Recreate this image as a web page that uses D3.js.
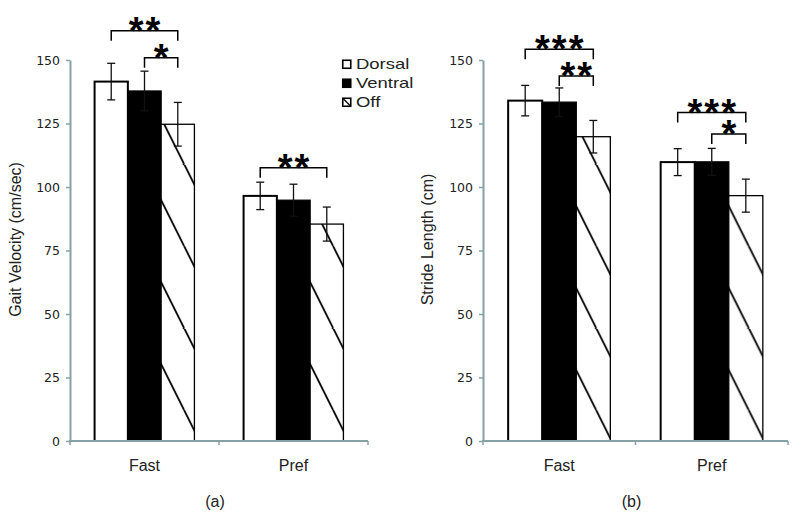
<!DOCTYPE html>
<html>
<head>
<meta charset="utf-8">
<script src="https://cdn.jsdelivr.net/npm/d3@7"></script>
<style>
  html, body { margin: 0; padding: 0; background: #fff; }
  svg { display: block; }
</style>
</head>
<body>
<svg id="chart" width="800" height="524"></svg>
<script>
// ---------- DATA ----------
const categories = ["Fast", "Pref"];
const seriesNames = ["Dorsal", "Ventral", "Off"];
const yTicks = [0, 25, 50, 75, 100, 125, 150];

// Panel (a): Gait Velocity (cm/sec)
const gaitDorsal = [141.5, 96.5];
const gaitVentral = [137.8, 94.8];
const gaitOff = [124.7, 85.4];
const gaitDorsalErr = [7.2, 5.4];
const gaitVentralErr = [7.8, 6.3];
const gaitOffErr = [8.6, 6.7];
const gaitBrackets = [
  { cat: "Fast", from: "Dorsal", to: "Off", y: 161.5, label: "**" },
  { cat: "Fast", from: "Ventral", to: "Off", y: 150.9, label: "*" },
  { cat: "Pref", from: "Dorsal", to: "Off", y: 107.6, label: "**" }
];

// Panel (b): Stride Length (cm)
const strideDorsal = [134.0, 109.8];
const strideVentral = [133.4, 109.9];
const strideOff = [119.8, 96.6];
const strideDorsalErr = [6.0, 5.3];
const strideVentralErr = [5.6, 5.3];
const strideOffErr = [6.4, 6.5];
const strideBrackets = [
  { cat: "Fast", from: "Dorsal", to: "Off", y: 154.2, label: "***" },
  { cat: "Fast", from: "Ventral", to: "Off", y: 143.7, label: "**" },
  { cat: "Pref", from: "Dorsal", to: "Off", y: 129.3, label: "***" },
  { cat: "Pref", from: "Ventral", to: "Off", y: 120.9, label: "*" }
];

// ---------- DRAW ----------
const svg = d3.select("#chart");
const defs = svg.append("defs");
const axisColor = "#86a2a6";
const textColor = "#222";

function makeHatch(id, x0) {
  const p = defs.append("pattern")
    .attr("id", id)
    .attr("patternUnits", "userSpaceOnUse")
    .attr("x", x0).attr("y", 0)
    .attr("width", 41).attr("height", 82);
  p.append("rect").attr("width", 41).attr("height", 82).attr("fill", "#fff");
  [-41, 0, 41].forEach(dx => {
    p.append("line")
      .attr("x1", dx).attr("y1", 0).attr("x2", dx + 41).attr("y2", 82)
      .attr("stroke", "#000").attr("stroke-width", 1.8);
  });
}

function buildRows(means, errs) {
  return categories.map((c, i) => ({
    cat: c,
    values: seriesNames.map((s, j) => ({ series: s, cat: c, value: means[j][i], err: errs[j][i] }))
  }));
}

function drawPanel(cfg) {
  const { left, right, top, bottom, rows, brackets, title, titleX, label, hatchId } = cfg;
  const g = svg.append("g");

  const y = d3.scaleLinear().domain([0, 150]).range([bottom, top]);
  const x0 = d3.scaleBand().domain(categories).range([left, right]).padding(0);
  const groupW = x0.bandwidth() * 0.67;
  const x1 = d3.scaleBand().domain(seriesNames).range([0, groupW]).padding(0);
  const groupOff = (x0.bandwidth() - groupW) / 2;
  const cx = (cat, s) => x0(cat) + groupOff + x1(s) + x1.bandwidth() / 2;

  // bars
  const grp = g.selectAll("g.grp").data(rows).join("g")
    .attr("transform", d => `translate(${x0(d.cat) + groupOff},0)`);
  grp.selectAll("rect").data(d => d.values).join("rect")
    .attr("x", d => x1(d.series))
    .attr("y", d => y(d.value))
    .attr("width", x1.bandwidth())
    .attr("height", d => y(0) - y(d.value))
    .attr("fill", d => d.series === "Dorsal" ? "#fff" : d.series === "Ventral" ? "#000" : `url(#${hatchId})`)
    .attr("stroke", "#000")
    .attr("stroke-width", d => d.series === "Dorsal" ? 2 : 1.3);

  // error bars
  const eb = grp.selectAll("g.eb").data(d => d.values).join("g");
  eb.append("line")
    .attr("x1", d => x1(d.series) + x1.bandwidth() / 2)
    .attr("x2", d => x1(d.series) + x1.bandwidth() / 2)
    .attr("y1", d => y(d.value + d.err))
    .attr("y2", d => y(d.value - d.err))
    .attr("stroke", "#111").attr("stroke-width", 1.3);
  [1, -1].forEach(sgn => {
    eb.append("line")
      .attr("x1", d => x1(d.series) + x1.bandwidth() / 2 - 4)
      .attr("x2", d => x1(d.series) + x1.bandwidth() / 2 + 4)
      .attr("y1", d => y(d.value + sgn * d.err))
      .attr("y2", d => y(d.value + sgn * d.err))
      .attr("stroke", "#111").attr("stroke-width", 1.3);
  });

  // y axis
  const ya = g.append("g").attr("transform", `translate(${left},0)`)
    .call(d3.axisLeft(y).tickValues(yTicks).tickSize(4).tickSizeOuter(0).tickPadding(6));
  ya.select(".domain").attr("stroke", axisColor).attr("stroke-width", 2);
  ya.selectAll(".tick line").attr("stroke", axisColor).attr("stroke-width", 1.5);
  ya.selectAll(".tick text").attr("fill", textColor)
    .style("font-family", "'DejaVu Sans', sans-serif").style("font-size", "12.5px");

  // x axis
  const xa = g.append("g").attr("transform", `translate(0,${bottom})`)
    .call(d3.axisBottom(x0).tickSize(0).tickSizeOuter(0).tickPadding(19));
  xa.select(".domain").attr("stroke", axisColor).attr("stroke-width", 2)
    .attr("d", `M${left - 1},0H${right}`);
  xa.selectAll(".tick text").attr("fill", textColor)
    .style("font-family", "'Liberation Sans', Arial, sans-serif").style("font-size", "16px");
  const bounds = [x0(categories[0])].concat(categories.map(c => x0(c) + x0.bandwidth()));
  xa.selectAll("line.bt").data(bounds).join("line").attr("class", "bt")
    .attr("x1", d => d).attr("x2", d => d).attr("y1", 0).attr("y2", 4)
    .attr("stroke", axisColor).attr("stroke-width", 1.5);

  // y axis title
  g.append("text")
    .attr("transform", `translate(${titleX},${(top + bottom) / 2 - 11}) rotate(-90)`)
    .attr("text-anchor", "middle")
    .attr("fill", textColor)
    .style("font-family", "'Liberation Sans', Arial, sans-serif").style("font-size", "16px")
    .text(title);

  // panel label
  g.append("text")
    .attr("x", (left + right) / 2 - 4).attr("y", 507)
    .attr("text-anchor", "middle").attr("fill", textColor)
    .style("font-family", "'Liberation Sans', Arial, sans-serif").style("font-size", "16px")
    .text(label);

  // significance brackets
  const starSize = 38;
  const bg = g.selectAll("g.br").data(brackets).join("g");
  bg.append("path")
    .attr("d", d => {
      const xa1 = cx(d.cat, d.from), xb = cx(d.cat, d.to), yy = y(d.y);
      return `M${xa1},${yy + 10}V${yy}H${xb}V${yy + 10}`;
    })
    .attr("fill", "none").attr("stroke", "#000").attr("stroke-width", 1.5);
  bg.append("text")
    .attr("x", d => (cx(d.cat, d.from) + cx(d.cat, d.to)) / 2 + 1)
    .attr("y", d => y(d.y) - 9 + 0.58 * starSize)
    .attr("text-anchor", "middle")
    .attr("fill", "#000")
    .style("font-family", "'Liberation Sans', Arial, sans-serif")
    .style("font-weight", "bold")
    .style("letter-spacing", "2px")
    .style("font-size", starSize + "px")
    .text(d => d.label);
}

makeHatch("hatchA", 130.5);
makeHatch("hatchB", 539);

drawPanel({
  left: 70, right: 368, top: 60, bottom: 441,
  rows: buildRows([gaitDorsal, gaitVentral, gaitOff], [gaitDorsalErr, gaitVentralErr, gaitOffErr]),
  brackets: gaitBrackets, title: "Gait Velocity (cm/sec)", titleX: 20.5, label: "(a)", hatchId: "hatchA"
});
drawPanel({
  left: 483, right: 788, top: 60, bottom: 441,
  rows: buildRows([strideDorsal, strideVentral, strideOff], [strideDorsalErr, strideVentralErr, strideOffErr]),
  brackets: strideBrackets, title: "Stride Length (cm)", titleX: 433, label: "(b)", hatchId: "hatchB"
});

// legend
const legend = svg.append("g").attr("transform", "translate(342,59.5)");
const li = legend.selectAll("g").data(seriesNames).join("g")
  .attr("transform", (d, i) => `translate(0,${i * 19})`);
li.append("rect").attr("x", 0.75).attr("y", 0.75).attr("width", 8).attr("height", 8)
  .attr("fill", d => d === "Ventral" ? "#000" : "#fff")
  .attr("stroke", "#000").attr("stroke-width", 1.6);
li.filter(d => d === "Off").append("line")
  .attr("x1", 0.75).attr("y1", 0.75).attr("x2", 8.75).attr("y2", 8.75)
  .attr("stroke", "#000").attr("stroke-width", 1.3);
li.append("text")
  .attr("transform", "translate(14,9.3) scale(1.32,1)")
  .attr("fill", textColor)
  .style("font-family", "'Liberation Sans', Arial, sans-serif").style("font-size", "14px")
  .text(d => d);
</script>
</body>
</html>
